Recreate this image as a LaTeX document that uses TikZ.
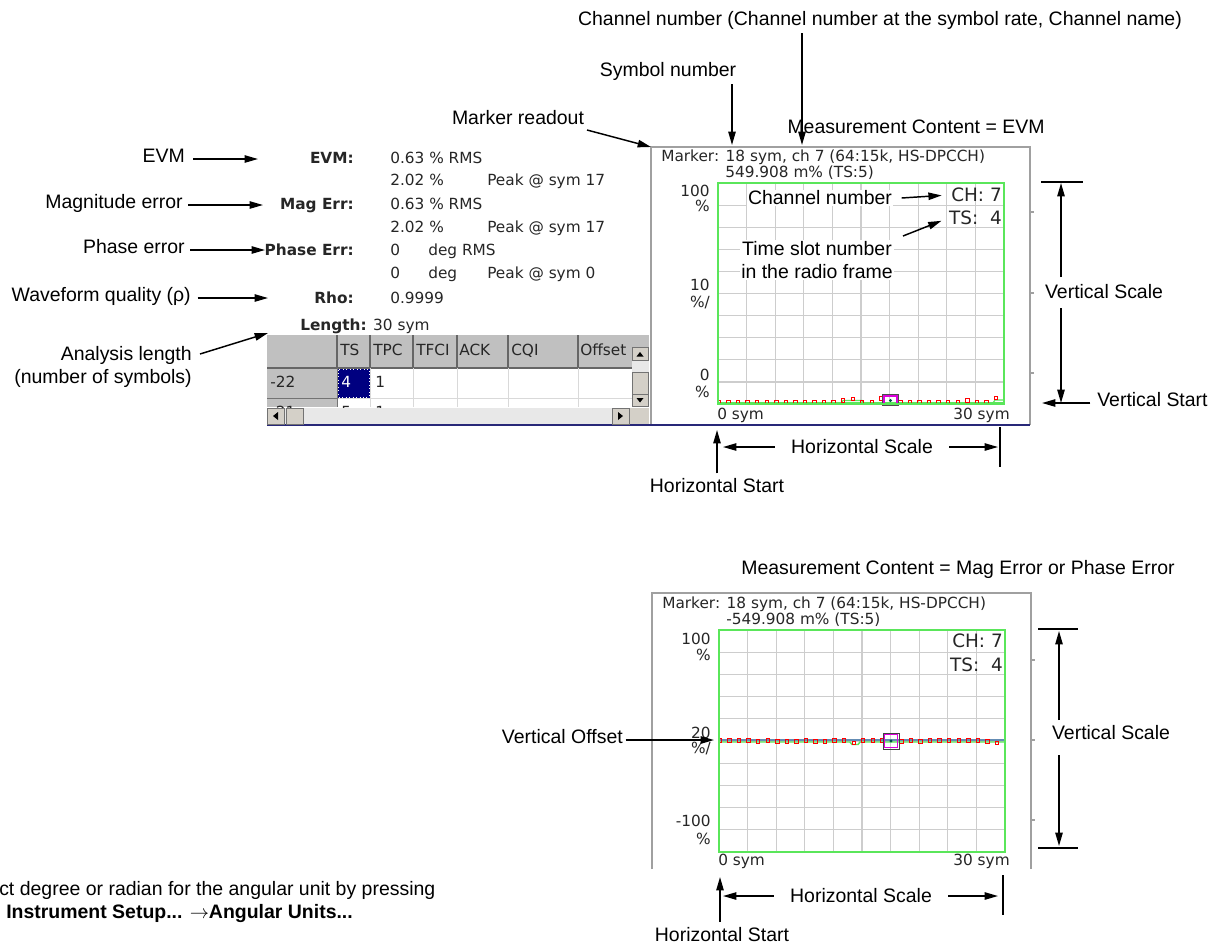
\documentclass[tikz,border=0pt]{standalone}
\usepackage{fontspec}
\setmainfont{Liberation Sans}
\newfontfamily\scrfont{DejaVu Sans}
\usetikzlibrary{arrows.meta}
\definecolor{plotgreen}{RGB}{90,230,90}
\definecolor{gridgray}{RGB}{205,205,205}
\definecolor{framegray}{RGB}{160,160,160}
\definecolor{navyc}{RGB}{0,0,128}
\definecolor{btnface}{RGB}{212,208,200}
\definecolor{hdrgray}{RGB}{192,192,192}
\definecolor{magc}{RGB}{220,0,220}
\definecolor{bluel}{RGB}{40,40,120}
\definecolor{steelc}{RGB}{100,140,180}
\begin{document}
\begin{tikzpicture}[x=0.75pt,y=-0.75pt,
  ann/.style={font=\fontsize{14.6}{17.5}\selectfont, inner sep=0pt},
  scr/.style={font=\scrfont\fontsize{11.5}{13}\selectfont, inner sep=0pt, text=black!85},
  scrb/.style={font=\scrfont\bfseries\fontsize{11.5}{13}\selectfont, inner sep=0pt, text=black!85},
  bigtxt/.style={font=\scrfont\fontsize{13.8}{16}\selectfont, inner sep=0pt, text=black!85},
  arr/.style={-{Triangle[length=10pt,width=5.5pt]}, line width=1.1pt},
  bar/.style={line width=1.1pt},
  gridl/.style={draw=gridgray, line width=0.9pt},
  pbox/.style={draw=plotgreen, line width=1.3pt},
  frm/.style={draw=framegray, line width=1pt},
  redsq/.style={draw=red, line width=0.7pt},
  btn/.style={fill=btnface, draw=black!55, line width=0.6pt},
  track/.style={fill=black!9},
]
\fill[white] (0,0) rectangle (1213,947);
\useasboundingbox (0,0) rectangle (1213,947);

% ================= TOP SCREEN =================
\draw[frm] (651,425) -- (651,147) -- (1030,147) -- (1030,425);
\foreach \yy in {212,293,373} \draw[frm] (1030,\yy) -- (1034,\yy);
\foreach \i in {1,...,9} \draw[gridl] ({718+28.6*\i},183) -- ({718+28.6*\i},404);
\foreach \j in {1,...,9} \draw[gridl] (718,{183+22.1*\j}) -- (1004,{183+22.1*\j});
% data
\draw[plotgreen, line width=1.6pt] (718,403) -- (1004,403);
\draw[plotgreen, line width=0.9pt] (841,403) -- (843,400.5) -- (862,400.5) -- (864,403);
\draw[plotgreen, line width=0.9pt] (993,403) -- (995,400) -- (1004,400);
\foreach \i/\d in {0/0,1/0,2/0,3/0,4/0,5/0,6/0,7/0,8/0,9/0,10/0,11/0,12/0,13/2,14/3.5,15/0,16/0,17/4,19/0,20/0,21/0,22/0,23/0,24/0,25/0,26/2,27/0,28/0,29/4.5}
  \draw[redsq] ({719+9.55*\i-1.7},{402.5-\d-1.7}) rectangle ++(3.4,3.4);
\draw[black!70, line width=0.5pt] (882.5,394.5) rectangle (898.5,405);
\draw[magc, line width=1.3pt] (883.8,395.8) rectangle (897.2,403.8);
\fill[teal!60!black] (890.5,400.5) circle (1.6);
\draw[pbox] (718,183) rectangle (1004,404);
\draw[bluel, line width=1.3pt] (267,425) -- (1030,425);

\node[scr, anchor=mid west] (mk1) at (661,158) {Marker: 18 sym, ch 7 (64:15k, HS-DPCCH)};
\node[scr, anchor=mid west] (mv1) at (725,174) {549.908 m\% (TS:5)};
\node[scr, anchor=mid east] at (710,193) {100};
\node[scr, anchor=mid east] at (710,208) {\%};
\node[scr, anchor=mid east] at (710,287) {10};
\node[scr, anchor=mid east] at (710,304) {\%/};
\node[scr, anchor=mid east] at (710,377) {0};
\node[scr, anchor=mid east] at (710,394) {\%};
\node[scr, anchor=mid west] at (717,416) {0 sym};
\node[scr, anchor=mid east] at (1010,416) {30 sym};
\node[bigtxt, anchor=mid east] (ch1) at (1002,198) {CH: 7};
\node[bigtxt, anchor=mid east] (ts1) at (1002,221) {TS:\ \ 4};

\node[ann, fill=white, inner sep=1pt] (lch) at (820,198) {Channel number};
\draw[arr, shorten >=7pt] ([xshift=6pt]lch.east) -- (ch1.west);
\node[ann, fill=white, inner sep=1pt, align=center] (lts) at (817,260) {Time slot number\\in the radio frame};
\coordinate (tsS) at (903,236);
\draw[arr, shorten >=6pt] (tsS) -- (ts1.west);

% ================= LEFT READOUT =================
\node[scrb, anchor=mid east] (kEVM) at (354,160) {EVM:};
\node[scr, anchor=mid west] at (390,160) {0.63 \% RMS};
\node[scr, anchor=mid west] at (390,182) {2.02 \%};
\node[scr, anchor=mid west] at (487,182) {Peak @ sym 17};
\node[scrb, anchor=mid east] (kMag) at (354,206) {Mag Err:};
\node[scr, anchor=mid west] at (390,206) {0.63 \% RMS};
\node[scr, anchor=mid west] at (390,229) {2.02 \%};
\node[scr, anchor=mid west] at (487,229) {Peak @ sym 17};
\node[scrb, anchor=mid east] (kPh) at (354,252) {Phase Err:};
\node[scr, anchor=mid west] at (390,252) {0};
\node[scr, anchor=mid west] at (428,252) {deg RMS};
\node[scr, anchor=mid west] at (390,275) {0};
\node[scr, anchor=mid west] at (428,275) {deg};
\node[scr, anchor=mid west] at (487,275) {Peak @ sym 0};
\node[scrb, anchor=mid east] (kRho) at (354,300) {Rho:};
\node[scr, anchor=mid west] at (390,300) {0.9999};
\node[scr, anchor=mid west] (kLen) at (300,327) {\textbf{Length:} 30 sym};

% table
\fill[hdrgray] (267,335) rectangle (632,368);
\fill[hdrgray] (267,368) rectangle (337,407);
\fill[white] (337,368) rectangle (632,407);
\foreach \xx in {337,370,413,457,508,578} \draw[black!60, line width=0.8pt] (\xx,335) -- (\xx,368);
\draw[black!60, line width=0.8pt] (267,368) -- (632,368);
\foreach \xx in {370,413,457,508,578} \draw[black!15] (\xx,368) -- (\xx,407);
\draw[black!15] (337,398) -- (632,398);
\draw[black!55] (267,398) -- (337,398);
\draw[black!55] (337,368) -- (337,407);
\fill[navyc] (338,369) rectangle (369.5,397.5);
\draw[white, dotted, line width=0.6pt] (338.5,369.5) rectangle (369,397);
\node[scr, anchor=mid west] at (340,352) {TS};
\node[scr, anchor=mid west] at (373,352) {TPC};
\node[scr, anchor=mid west] at (416,352) {TFCI};
\node[scr, anchor=mid west] at (459,352) {ACK};
\node[scr, anchor=mid west] at (511,352) {CQI};
\node[scr, anchor=mid west] at (580,352) {Offset};
\node[scr, anchor=mid west] at (270,384) {-22};
\node[scr, anchor=mid west, text=white] at (341,384) {4};
\node[scr, anchor=mid west] at (375,384) {1};
\begin{scope}
\clip (267,398.5) rectangle (632,407);
\node[scr, anchor=mid west] at (270,414) {-21};
\node[scr, anchor=mid west] at (341,414) {5};
\node[scr, anchor=mid west] at (375,414) {1};
\end{scope}
% vertical scrollbar
\fill[hdrgray] (632,335) rectangle (649,347);
\fill[track] (632,347) rectangle (649,407);
\draw[btn] (632,347) rectangle (648,360);
\fill[black] (636.5,356.5) -- (643.5,356.5) -- (640,352) -- cycle;
\draw[btn] (632,372) rectangle (648,394);
\draw[btn] (632,394) rectangle (648,406);
\fill[black] (636.5,398) -- (643.5,398) -- (640,402.5) -- cycle;
% horizontal scrollbar
\fill[track] (267,408) rectangle (632,424);
\draw[btn] (267,408) rectangle (284,424);
\fill[black] (278,412) -- (278,420) -- (273,416) -- cycle;
\draw[btn] (286,408) rectangle (303,424);
\draw[btn] (612,408) rectangle (629,424);
\fill[black] (618,412) -- (618,420) -- (623,416) -- cycle;
\fill[btnface] (630,408) rectangle (649,424);

% left annotations
\node[ann, anchor=mid east] (lEVM) at (185,159) {EVM};
\coordinate (tEVM) at (258,159);
\draw[arr] ([xshift=6pt]lEVM.mid east) -- (tEVM);
\node[ann, anchor=mid east] (lMag) at (183,205) {Magnitude error};
\coordinate (tMag) at (263,205);
\draw[arr] ([xshift=4pt]lMag.mid east) -- (tMag);
\node[ann, anchor=mid east] (lPh) at (185,250) {Phase error};
\coordinate (tPh) at (265,250);
\draw[arr] ([xshift=4pt]lPh.mid east) -- (tPh);
\node[ann, anchor=mid east] (lWQ) at (191,298) {Waveform quality (ρ)};
\coordinate (tWQ) at (268,298);
\draw[arr] ([xshift=5pt]lWQ.mid east) -- (tWQ);
\node[ann, anchor=east, align=right] (lAL) at (192,367) {Analysis length\\(number of symbols)};
\coordinate (alS) at (200,354);
\coordinate (alE) at (268,333);
\draw[arr] (alS) -- (alE);

% top annotations
\node[ann] (lChan) at (880,20) {Channel number (Channel number at the symbol rate, Channel name)};
\coordinate (chS) at (802,33);
\coordinate (chE) at (802,145);
\draw[arr] (chS) -- (chE);
\node[ann] (lSym) at (668,71) {Symbol number};
\coordinate (syS) at (732,84);
\coordinate (syE) at (732,145);
\draw[arr] (syS) -- (syE);
\node[ann] (lMr) at (518,118) {Marker readout};
\coordinate (mrS) at (587,130);
\coordinate (mrE) at (651,147);
\draw[arr] (mrS) -- (mrE);
\node[ann] (lMC1) at (916,127) {Measurement Content = EVM};

% right annotations top
\coordinate (vsT) at (1061,183);
\coordinate (vsB) at (1061,403);
\draw[bar] (1041,182) -- (1083,182);
\node[ann] (lVS1) at (1104,292) {Vertical Scale};
\draw[arr] (1061,277) -- (vsT);
\draw[arr] (1061,308) -- (vsB);
\node[ann, anchor=mid west] (lVst) at (1097,403) {Vertical Start};
\coordinate (vstE) at (1042,403);
\draw[arr] ([xshift=-5pt]lVst.mid west) -- (vstE);

% horizontal annotations top
\node[ann] (lHS1) at (862,447) {Horizontal Scale};
\coordinate (hsL1) at (723,447);
\coordinate (hsR1) at (998,447);
\draw[arr] ([xshift=-12pt]lHS1.west) -- (hsL1);
\draw[arr] ([xshift=12pt]lHS1.east) -- (hsR1);
\draw[bar] (1000,427) -- (1000,467);
\node[ann] (lHst1) at (717,486) {Horizontal Start};
\coordinate (hstE1) at (717,430);
\draw[arr] ([yshift=4pt]lHst1.north) -- (hstE1);

% ================= BOTTOM SCREEN =================
\node[ann] (lMC2) at (958,569) {Measurement Content = Mag Error or Phase Error};
\draw[frm] (652,869) -- (652,593) -- (1031,593) -- (1031,869);
\foreach \yy in {660,740,820} \draw[frm] (1031,\yy) -- (1035,\yy);
\foreach \i in {1,...,9} \draw[gridl] ({719+28.6*\i},630) -- ({719+28.6*\i},852);
\foreach \j in {1,...,9} \draw[gridl] (719,{630+22.2*\j}) -- (1005,{630+22.2*\j});
\draw[steelc, line width=0.9pt] (719,740) -- (1005,740);
\draw[plotgreen, line width=1.1pt] (719,742) -- (850,742) -- (852,744.5) -- (858,744.5) -- (860,742) -- (1005,742);
\foreach \i/\d in {0/0,1/0,2/0,3/0,4/1,5/0,6/1,7/1,8/1,9/0,10/1,11/1,12/0,13/0,14/2.5,15/0,16/0,17/0,19/1,20/0,21/1,22/0,23/0,24/0,25/0,26/0,27/0,28/1,29/2.5}
  \draw[redsq] ({720+9.55*\i-1.7},{740.5+\d-1.7}) rectangle ++(3.4,3.4);
\draw[black!75, line width=0.6pt] (883,733) rectangle (899,749);
\draw[magc, line width=1.3pt] (884.5,734.5) rectangle (897.5,747.5);
\fill[teal!60!black] (891,741) circle (1.6);
\draw[pbox] (719,630) rectangle (1005,852);

\node[scr, anchor=mid west] (mk2) at (662,605) {Marker: 18 sym, ch 7 (64:15k, HS-DPCCH)};
\node[scr, anchor=mid west] (mv2) at (726,621) {-549.908 m\% (TS:5)};
\node[scr, anchor=mid east] at (711,641) {100};
\node[scr, anchor=mid east] at (711,657) {\%};
\node[scr, anchor=mid east] at (711,735) {20};
\node[scr, anchor=mid east] at (711,750) {\%/};
\node[scr, anchor=mid east] at (711,823) {-100};
\node[scr, anchor=mid east] at (711,841) {\%};
\node[scr, anchor=mid west] at (718,862) {0 sym};
\node[scr, anchor=mid east] at (1010,862) {30 sym};
\node[bigtxt, anchor=mid east] (ch2) at (1003,644) {CH: 7};
\node[bigtxt, anchor=mid east] (ts2) at (1003,668) {TS:\ \ 4};

\node[ann, anchor=mid east] (lVO) at (623,740) {Vertical Offset};
\coordinate (voE) at (714,740);
\draw[arr] ([xshift=2pt]lVO.mid east) -- (voE);

\draw[bar] (1038,629) -- (1078,629);
\draw[bar] (1038,848) -- (1078,848);
\node[ann] (lVS2) at (1111,733) {Vertical Scale};
\coordinate (vs2T) at (1059,631);
\coordinate (vs2B) at (1059,846);
\draw[arr] (1059,720) -- (vs2T);
\draw[arr] (1059,755) -- (vs2B);

\node[ann] (lHS2) at (861,896) {Horizontal Scale};
\coordinate (hsL2) at (723,896);
\coordinate (hsR2) at (998,896);
\draw[arr] ([xshift=-12pt]lHS2.west) -- (hsL2);
\draw[arr] ([xshift=12pt]lHS2.east) -- (hsR2);
\draw[bar] (1003,875) -- (1003,915);
\node[ann] (lHst2) at (722,935) {Horizontal Start};
\coordinate (hstS2) at (720,922);
\coordinate (hstE2) at (720,877);
\draw[arr] (hstS2) -- (hstE2);

% note
\node[ann, anchor=mid west] (note1) at (-1,892) {ct degree or radian for the angular unit by pressing};
\node[ann, anchor=mid west] (note2) at (6,915) {\textbf{Instrument Setup...} $\rightarrow$\textbf{Angular Units...}};
\end{tikzpicture}
\end{document}
